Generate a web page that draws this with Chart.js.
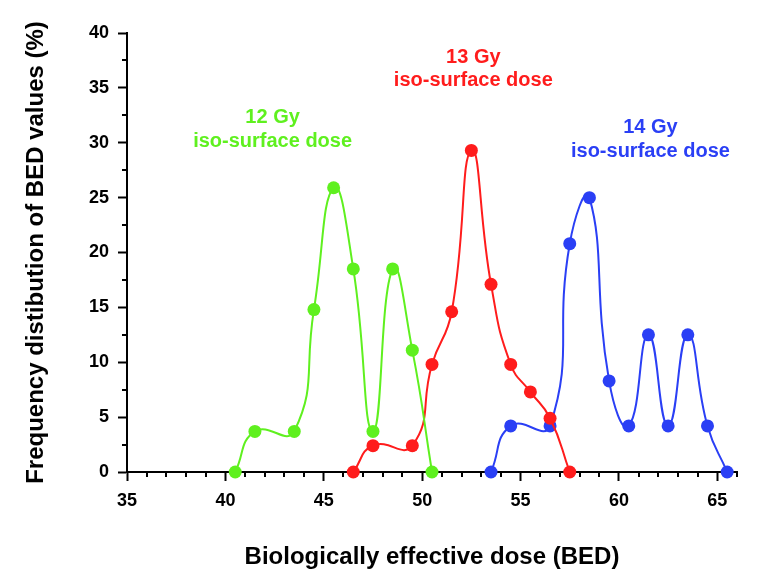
<!DOCTYPE html>
<html>
<head>
<meta charset="utf-8">
<script src="https://cdn.jsdelivr.net/npm/chart.js@4.4.0/dist/chart.umd.min.js"></script>
<style>
  html, body { margin: 0; padding: 0; background: #fff; }
</style>
</head>
<body>
<canvas id="bedChart" width="770" height="578"></canvas>
<script>
// BED values (x) and frequency in % (y) for each iso-surface dose
var bed12 = [40.5, 41.5, 43.5, 44.5, 45.5, 46.5, 47.5, 48.5, 49.5, 50.5];
var freq12 = [0, 3.7, 3.7, 14.8, 25.9, 18.5, 3.7, 18.5, 11.1, 0];

var bed13 = [46.5, 47.5, 49.5, 50.5, 51.5, 52.5, 53.5, 54.5, 55.5, 56.5, 57.5];
var freq13 = [0, 2.4, 2.4, 9.8, 14.6, 29.3, 17.1, 9.8, 7.3, 4.9, 0];

var bed14 = [53.5, 54.5, 56.5, 57.5, 58.5, 59.5, 60.5, 61.5, 62.5, 63.5, 64.5, 65.5];
var freq14 = [0, 4.2, 4.2, 20.8, 25, 8.3, 4.2, 12.5, 4.2, 12.5, 4.2, 0];

var seriesNames = ["12 Gy", "13 Gy", "14 Gy"];
var yTicks = [0, 5, 10, 15, 20, 25, 30, 35, 40];
var xTicks = [35, 40, 45, 50, 55, 60, 65];

var GREEN = "#5ff01f";
var RED = "#ff1c1c";
var BLUE = "#2a3ff5";
var FONT = '"Liberation Sans", Arial, sans-serif';

function toPoints(xs, ys) {
    return xs.map(function(x, i) { return { x: x, y: ys[i] }; });
}

function makeSet(name, xs, ys, color) {
    return {
        label: name,
        data: toPoints(xs, ys),
        borderColor: color,
        backgroundColor: color,
        borderWidth: 2,
        pointRadius: 6.5,
        pointHoverRadius: 6.5,
        pointBorderWidth: 0,
        tension: 0.5,
        fill: false,
        clip: false
    };
}

// text notes next to each curve, positioned in data units
var notes = [
    { text: ["12 Gy", "iso-surface dose"], x: 42.4, y: [32.3, 30.1], color: GREEN },
    { text: ["13 Gy", "iso-surface dose"], x: 52.6, y: [37.8, 35.7], color: RED },
    { text: ["14 Gy", "iso-surface dose"], x: 61.6, y: [31.4, 29.2], color: BLUE }
];

var notesPlugin = {
    id: "notes",
    afterDatasetsDraw: function(chart) {
        var ctx = chart.ctx;
        var xs = chart.scales.x, ys = chart.scales.y;
        ctx.save();
        ctx.font = "bold 20px " + FONT;
        ctx.textAlign = "center";
        ctx.textBaseline = "middle";
        notes.forEach(function(n) {
            ctx.fillStyle = n.color;
            n.text.forEach(function(t, i) {
                ctx.fillText(t, xs.getPixelForValue(n.x), ys.getPixelForValue(n.y[i]));
            });
        });
        ctx.restore();
    }
};

// short minor ticks between the labelled ones
var minorTicks = {
    id: "minorTicks",
    afterDraw: function(chart) {
        var ctx = chart.ctx;
        var xs = chart.scales.x, ys = chart.scales.y;
        var area = chart.chartArea;
        ctx.save();
        ctx.strokeStyle = "#000";
        ctx.lineWidth = 2;
        ctx.beginPath();
        for (var v = 36; v <= 66; v++) {
            if (v % 5 === 0) continue;
            var px = Math.round(xs.getPixelForValue(v));
            ctx.moveTo(px, area.bottom);
            ctx.lineTo(px, area.bottom + 5);
        }
        for (var w = 2.5; w < 40; w += 5) {
            var py = Math.round(ys.getPixelForValue(w));
            ctx.moveTo(area.left - 5, py);
            ctx.lineTo(area.left, py);
        }
        ctx.stroke();
        ctx.restore();
    }
};

var ctx = document.getElementById("bedChart");

var chart = new Chart(ctx, {
    type: "line",
    data: {
        datasets: [
            makeSet(seriesNames[0], bed12, freq12, GREEN),
            makeSet(seriesNames[1], bed13, freq13, RED),
            makeSet(seriesNames[2], bed14, freq14, BLUE)
        ]
    },
    options: {
        responsive: false,
        animation: false,
        layout: { padding: { top: 33, right: 33, left: 0, bottom: 0 } },
        plugins: {
            legend: { display: false },
            tooltip: { enabled: false }
        },
        scales: {
            x: {
                type: "linear",
                min: 35,
                max: 66,
                afterBuildTicks: function(s) {
                    s.ticks = xTicks.map(function(v) { return { value: v }; });
                },
                afterFit: function(s) { s.height = 106; },
                grid: {
                    drawOnChartArea: false,
                    drawTicks: true,
                    tickLength: 9,
                    tickWidth: 2,
                    tickColor: "#000"
                },
                border: { display: true, color: "#000", width: 2 },
                ticks: {
                    color: "#000",
                    padding: 9,
                    maxRotation: 0,
                    font: { family: FONT, size: 18, weight: "bold" }
                },
                title: {
                    display: true,
                    text: "Biologically effective dose (BED)",
                    color: "#000",
                    padding: { top: 0, bottom: 6 },
                    font: { family: FONT, size: 24, weight: "bold" }
                }
            },
            y: {
                min: 0,
                max: 40,
                afterBuildTicks: function(s) {
                    s.ticks = yTicks.map(function(v) { return { value: v }; });
                },
                afterFit: function(s) { s.width = 127; },
                grid: {
                    drawOnChartArea: false,
                    drawTicks: true,
                    tickLength: 9,
                    tickWidth: 2,
                    tickColor: "#000"
                },
                border: { display: true, color: "#000", width: 2 },
                ticks: {
                    color: "#000",
                    padding: 9,
                    font: { family: FONT, size: 18, weight: "bold" }
                },
                title: {
                    display: true,
                    text: "Frequency distibution of BED values (%)",
                    color: "#000",
                    padding: { top: 22, bottom: 0 },
                    font: { family: FONT, size: 24, weight: "bold" }
                }
            }
        }
    },
    plugins: [notesPlugin, minorTicks]
});
</script>
</body>
</html>
